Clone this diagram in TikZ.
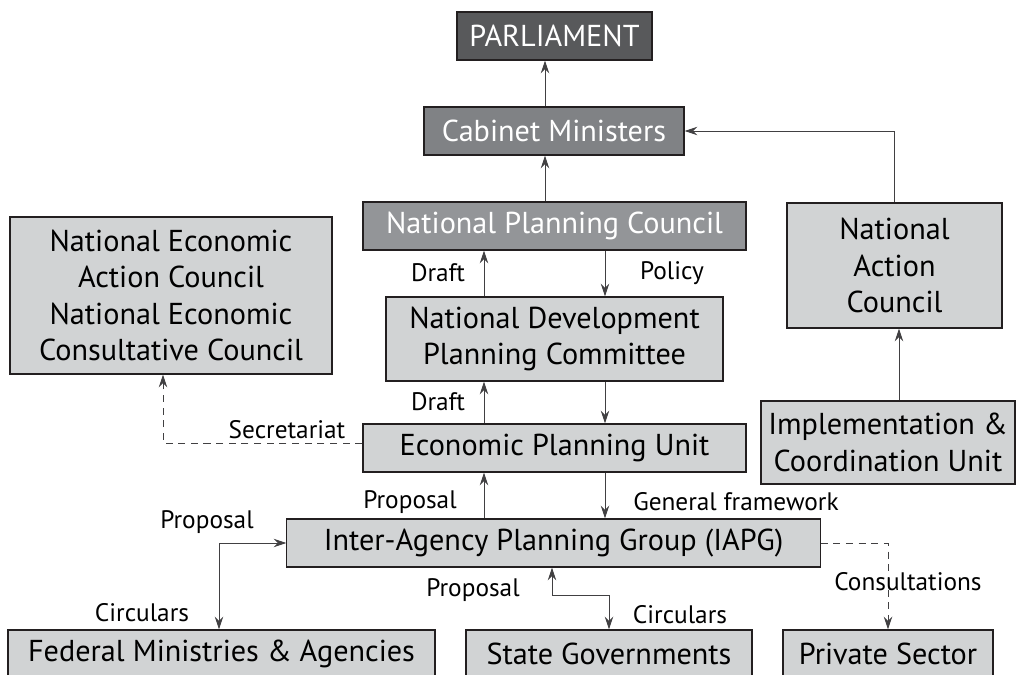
\documentclass[tikz,border=0pt]{standalone}
\usepackage{fontspec}
\setmainfont{PT Sans}
\usetikzlibrary{arrows.meta}

\definecolor{darkbox}{HTML}{58595B}
\definecolor{midbox}{HTML}{808285}
\definecolor{softbox}{HTML}{939598}
\definecolor{lightbox}{HTML}{D1D3D4}
\definecolor{edge}{HTML}{231F20}
\definecolor{wire}{HTML}{414042}

\tikzset{
	unit/.style={draw=edge, line width=0.8pt, fill=lightbox, text=black, align=center,
		inner sep=0pt, font=\fontsize{21.5}{26}\selectfont},
	topunit/.style={unit, fill=#1, text=white},
	tag/.style={inner sep=0pt, text=black, font=\fontsize{18}{21}\selectfont},
	flow/.style={draw=wire, line width=0.7pt, -{Stealth[length=9pt,width=6pt]}},
	twoway/.style={flow, {Stealth[length=9pt,width=6pt]}-{Stealth[length=9pt,width=6pt]}},
	hint/.style={flow, dashed, dash pattern=on 5pt off 4pt}
}

\begin{document}
\begin{tikzpicture}[x=0.025cm, y=-0.025cm]
	\useasboundingbox (0,0) rectangle (1021,675);

	% boxes
	\node[topunit=darkbox, minimum width=4.875cm, minimum height=1.2cm] (parl) at (554.5,36) {PARLIAMENT};
	\node[topunit=midbox, minimum width=6.5cm, minimum height=1.2cm] (cab) at (554,131) {Cabinet Ministers};
	\node[topunit=softbox, minimum width=9.575cm, minimum height=1.2cm] (npc) at (554.5,226) {National Planning Council};
	\node[unit, minimum width=8.05cm, minimum height=3.925cm] (neac) at (171,295.5)
		{National Economic\\Action Council\\National Economic\\Consultative Council};
	\node[unit, minimum width=8.425cm, minimum height=2.1cm] (ndpc) at (554.5,339)
		{National Development\\Planning Committee};
	\node[unit, minimum width=5.375cm, minimum height=3.125cm] (nac) at (894.5,265.5)
		{National\\Action\\Council};
	\node[unit, minimum width=6.35cm, minimum height=2.075cm] (icu) at (888,442.5)
		{Implementation \&\\Coordination Unit};
	\node[unit, minimum width=9.575cm, minimum height=1.2cm] (epu) at (554.5,448) {Economic Planning Unit};
	\node[unit, minimum width=13.325cm, minimum height=1.2cm] (iapg) at (553.5,543) {Inter-Agency Planning Group (IAPG)};
	\node[unit, minimum width=10.675cm, minimum height=1.2cm] (fed) at (221.5,654) {Federal Ministries \& Agencies};
	\node[unit, minimum width=7.15cm, minimum height=1.2cm] (state) at (609,654) {State Governments};
	\node[unit, minimum width=5.25cm, minimum height=1.2cm] (priv) at (888,654) {Private Sector};

	% columns the connectors run along
	\coordinate (spine) at (545,0);
	\coordinate (up) at (484,0);
	\coordinate (down) at (605,0);
	\coordinate (left) at (163,443);
	\coordinate (side) at (899,0);
	\coordinate (fedcol) at (219,0);
	\coordinate (kink) at (552,595);

	% connectors
	\draw[flow] (cab.north -| spine) -- (parl.south -| spine);
	\draw[flow] (npc.north -| spine) -- (cab.south -| spine);
	\draw[flow] (ndpc.north -| up) -- (npc.south -| up);
	\draw[flow] (npc.south -| down) -- (ndpc.north -| down);
	\draw[flow] (epu.north -| up) -- (ndpc.south -| up);
	\draw[flow] (ndpc.south -| down) -- (epu.north -| down);
	\draw[flow] (iapg.north -| up) -- (epu.south -| up);
	\draw[flow] (epu.south -| down) -- (iapg.north -| down);
	\draw[hint] (epu.west |- left) -- (left) -- (neac.south -| left);
	\draw[flow] (nac.north) |- (cab.east);
	\draw[flow] (icu.north -| side) -- (nac.south -| side);
	\draw[hint] (iapg.east) -| (priv.north);
	\draw[twoway] (fed.north -| fedcol) |- (iapg.west);
	\draw[twoway] (iapg.south -| kink) -- (kink) -| (state.north);

	% labels
	\node[tag] (l1) at (438,273) {Draft};
	\node[tag] (l2) at (672,273) {Policy};
	\node[tag] (l3) at (438,402) {Draft};
	\node[tag] (l4) at (287,430) {Secretariat};
	\node[tag] (l5) at (410,502) {Proposal};
	\node[tag, anchor=west] (l6) at (633,502) {General framework};
	\node[tag] (l7) at (207,522) {Proposal};
	\node[tag] (l8) at (142,613) {Circulars};
	\node[tag] (l9) at (473,590) {Proposal};
	\node[tag] (l10) at (680,615) {Circulars};
	\node[tag] (l11) at (908,582) {Consultations};
\end{tikzpicture}
\end{document}
